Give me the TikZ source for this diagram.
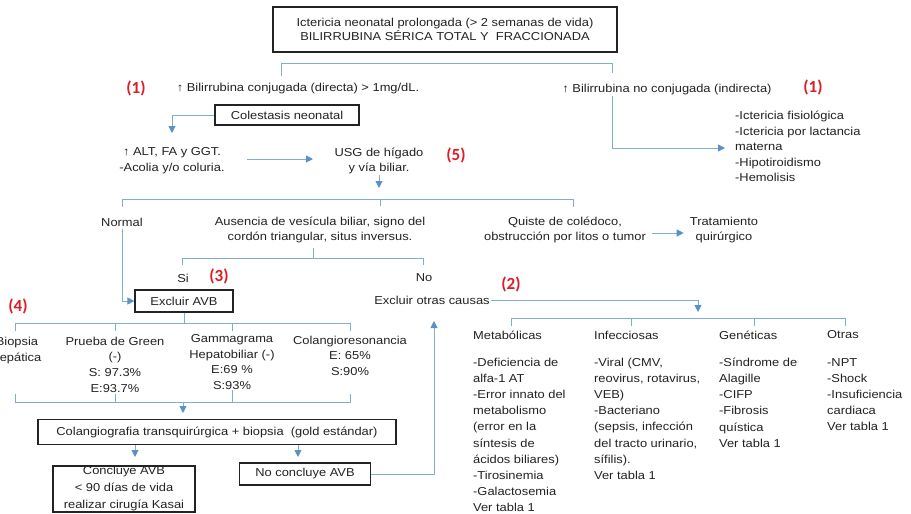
\documentclass[tikz,border=0pt]{standalone}
\usepackage{fontspec}
\setmainfont[FakeStretch=1.12]{Liberation Sans}
\newfontfamily\redfont{Carlito}
\usetikzlibrary{arrows.meta,calc}
\definecolor{lineblue}{RGB}{128,172,214}
\definecolor{arrblue}{RGB}{88,145,205}
\definecolor{labred}{RGB}{222,28,36}
\definecolor{ink}{RGB}{35,35,35}
\begin{document}
\begin{tikzpicture}[x=1pt,y=-1pt,
  txt/.style={font=\fontsize{11.5}{15.6}\selectfont, align=center, inner sep=0pt, text=ink},
  lst/.style={font=\fontsize{11.5}{16.1}\selectfont, align=left, inner sep=0pt, anchor=north west, text=ink},
  cat/.style={font=\fontsize{11.5}{15}\selectfont, inner sep=0pt, anchor=west, text=ink},
  bx/.style={draw=ink, line width=1.2pt, inner sep=0pt},
  conn/.style={draw=lineblue, line width=0.9pt},
  arr/.style={conn, -{Triangle[length=7pt,width=7pt,color=arrblue]}},
  rl/.style={font=\redfont\bfseries\fontsize{17}{17}\selectfont, text=labred, inner sep=0pt},
]
\useasboundingbox (0,0) rectangle (911,514);
\fill[white] (0,0) rectangle (911,514);

% ---- top
\node[bx, txt, font=\fontsize{11.5}{13.6}\selectfont, minimum width=344pt, minimum height=45pt] (top) at (445,29.5)
  {Ictericia neonatal prolongada (> 2 semanas de vida)\\BILIRRUBINA SÉRICA TOTAL Y~ FRACCIONADA};

\node[rl] (r1a) at (136,88) {(1)};
\node[txt] (conj) at (298,89) {↑ Bilirrubina conjugada (directa) > 1mg/dL.};
\node[txt] (nconj) at (667,90) {↑ Bilirrubina no conjugada (indirecta)};
\node[rl] (r1b) at (813,87) {(1)};
\node[lst, font=\fontsize{11.5}{15.5}\selectfont] (ind) at (735,111)
  {-Ictericia fisiológica\\-Ictericia por lactancia\\materna\\-Hipotiroidismo\\-Hemolisis};

\coordinate (tl) at (281,63); \coordinate (tr) at (612,63);
\coordinate (tld) at (281,76); \coordinate (trd) at (612,73);
\draw[conn] (tld) -- (tl) -- (tr) -- (trd);
\coordinate (rs) at (612,96); \coordinate (ia) at (725,148);
\draw[arr] (rs) |- (ia);

% ---- colestasis
\node[bx, txt, minimum width=144pt, minimum height=20pt] (col) at (287,115) {Colestasis neonatal};
\node[txt] (alt) at (172,160.5) {↑ ALT, FA y GGT.\\-Acolia y/o coluria.};
\node[txt] (usg) at (379,161) {USG de hígado\\y vía biliar.};
\node[rl] (r5) at (456,155) {(5)};
\coordinate (altin) at (172,133);
\draw[arr] (col.west) -| (altin);
\coordinate (a1) at (247,159); \coordinate (a2) at (313,159);
\draw[arr] (a1) -- (a2);
\coordinate (ub) at (379,188);
\draw[arr] ([yshift=-1pt]usg.south) -- (ub);

% ---- second level
\node[txt] (normal) at (122,222) {Normal};
\node[txt] (aus) at (320,230) {Ausencia de vesícula biliar, signo del\\cordón triangular, situs inversus.};
\node[txt] (quiste) at (565,230) {Quiste de colédoco,\\obstrucción por litos o tumor};
\node[txt] (trat) at (724,230) {Tratamiento\\quirúrgico};
\coordinate (b2l) at (122,207); \coordinate (b2r) at (573,199); \coordinate (b2rd) at (573,207);
\draw[conn] (b2l) |- (b2r) -- (b2rd);
\coordinate (b2c) at (380,199); \coordinate (b2cd) at (380,206);
\draw[conn] (b2c) -- (b2cd);
\draw[arr] ([xshift=6pt]quiste.east |- 0,233) -- ([xshift=-6pt]trat.west |- 0,233);

\node[txt] (si) at (183,278) {Si};
\node[rl] (r3) at (219,276) {(3)};
\node[txt] (no) at (424,278) {No};
\node[txt] (otras) at (432,300) {Excluir otras causas};
\node[bx, txt, minimum width=98pt, minimum height=22pt] (avb) at (184,301) {Excluir AVB};
\coordinate (snc) at (313,248); \coordinate (snh) at (313,258);
\draw[conn] (snc) -- (snh);
\coordinate (snl) at (182,265); \coordinate (snr) at (423,258); \coordinate (snrd) at (423,265);
\draw[conn] (snl) |- (snr) -- (snrd);
\draw[arr] ([yshift=-3pt]normal.south) |- (avb.west);

% ---- tests
\node[rl] (r4) at (18,306) {(4)};
\node[txt] (biop) at (17,350.5) {Biopsia\\hepática};
\node[txt] (green) at (115,364.5) {Prueba de Green\\(-)\\S: 97.3\%\\E:93.7\%};
\node[txt] (gamma) at (232,362) {Gammagrama\\Hepatobiliar (-)\\E:69 \%\\S:93\%};
\node[txt] (colres) at (350,355.5) {Colangioresonancia\\E: 65\%\\S:90\%};
\coordinate (b4c) at (184,323);
\draw[conn] (avb.south) -- (b4c);
\coordinate (b4l) at (15,331); \coordinate (b4r) at (350,323); \coordinate (b4rd) at (350,331);
\draw[conn] (b4l) |- (b4r) -- (b4rd);
\draw[conn] (115,323) -- (115,331);
\draw[conn] (232,323) -- (232,331);
\coordinate (b5l) at (15,394); \coordinate (b5r) at (350,402); \coordinate (b5ru) at (350,394);
\draw[conn] (b5l) |- (b5r) -- (b5ru);
\draw[conn] (115,394) -- (115,402);
\draw[conn] (232,390) -- (232,402);

\node[bx, txt, minimum width=358pt, minimum height=25pt] (cola) at (217,432)
  {Colangiografia transquirúrgica + biopsia~ (gold estándar)};
\coordinate (b5c) at (183,402); \coordinate (b5ca) at (183,413);
\draw[arr] (b5c) -- (b5ca);
\coordinate (c1) at (135,457); \coordinate (c2) at (298,457);
\draw[arr] (cola.south -| c1) -- (c1);
\draw[arr] (cola.south -| c2) -- (c2);

\node[bx, minimum width=142pt, minimum height=46pt] (conc) at (124,489) {};
\node[txt, font=\fontsize{11.5}{16.6}\selectfont] (conct) at (124,488.5) {Concluye AVB\\< 90 días de vida\\realizar cirugía Kasai};
\node[bx, txt, minimum width=131pt, minimum height=22pt] (noc) at (305,474) {No concluye AVB};
\coordinate (up) at (434,321);
\draw[arr] (noc.east) -| (up);

% ---- other causes
\node[rl] (r2) at (511,284) {(2)};
\coordinate (oa) at (698,312);
\draw[arr] ([xshift=1pt]otras.east) -| (oa);
\coordinate (b6l) at (511,326); \coordinate (b6r) at (845,318); \coordinate (b6rd) at (845,326);
\draw[conn] (b6l) |- (b6r) -- (b6rd);
\draw[conn] (631,318) -- (631,326);
\draw[conn] (754,318) -- (754,326);

\node[cat] (met) at (473,335) {Metabólicas};
\node[cat] (inf) at (594,335) {Infecciosas};
\node[cat] (gen) at (719,335) {Genéticas};
\node[cat] (otr) at (827,335) {Otras};

\node[lst] (metl) at (473,358) {-Deficiencia de\\alfa-1 AT\\-Error innato del\\metabolismo\\(error en la\\síntesis de\\ácidos biliares)\\-Tirosinemia\\-Galactosemia\\Ver tabla 1};
\node[lst] (infl) at (594,358) {-Viral (CMV,\\reovirus, rotavirus,\\VEB)\\-Bacteriano\\(sepsis, infección\\del tracto urinario,\\sífilis).\\Ver tabla 1};
\node[lst] (genl) at (719,358) {-Síndrome de\\Alagille\\-CIFP\\-Fibrosis\\quística\\Ver tabla 1};
\node[lst] (otrl) at (827,358) {-NPT\\-Shock\\-Insuficiencia\\cardiaca\\Ver tabla 1};
\end{tikzpicture}
\end{document}
